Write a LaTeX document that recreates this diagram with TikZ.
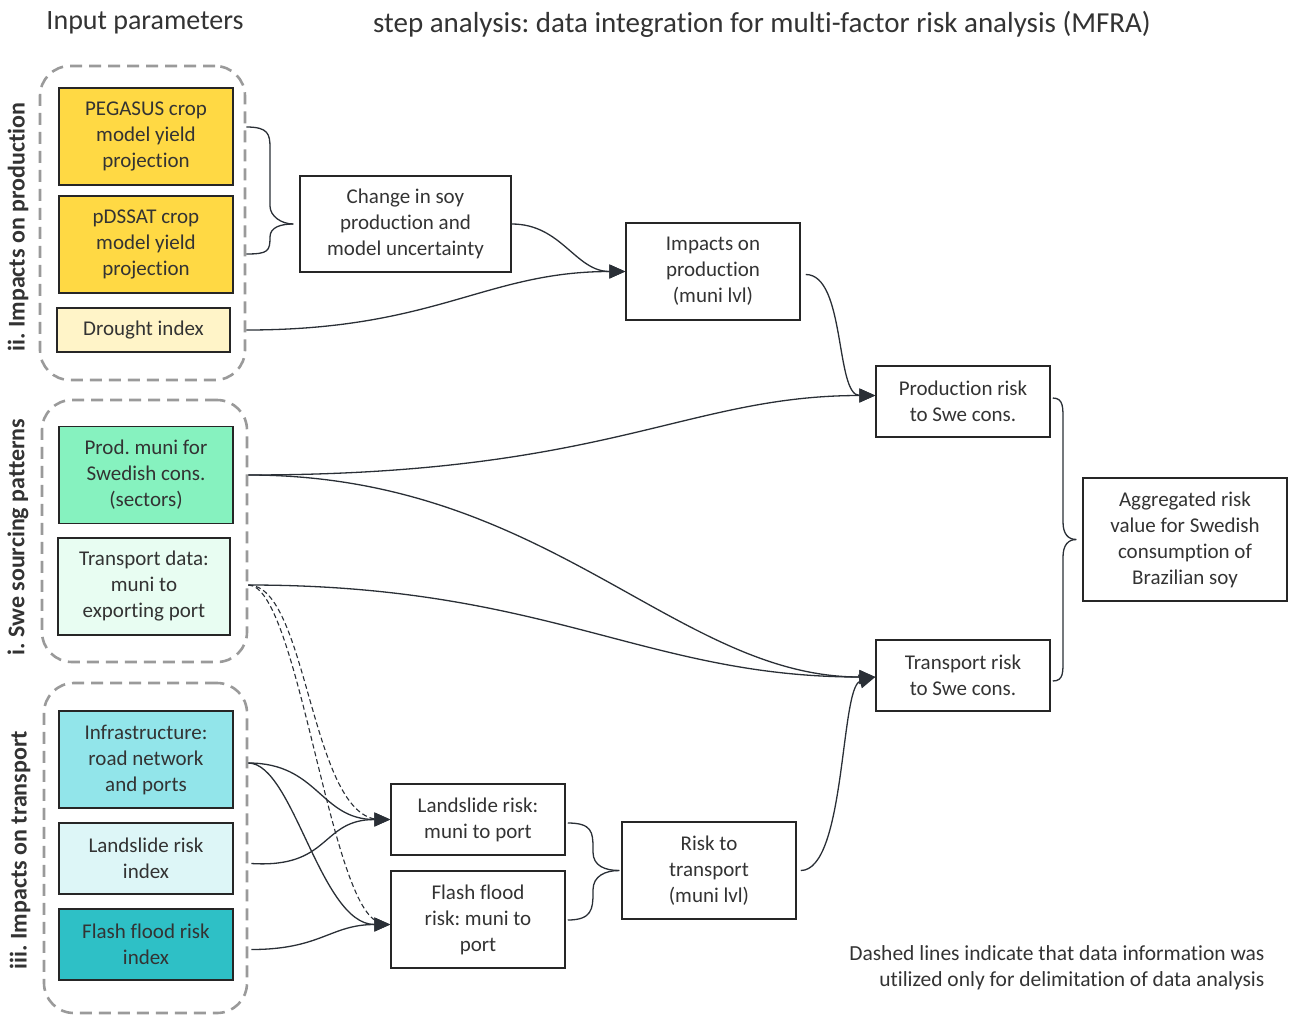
\documentclass[tikz,border=0pt]{standalone}
\usepackage{fontspec}
\setmainfont{Carlito}[Ligatures={NoCommon}]
\usetikzlibrary{arrows.meta}
\definecolor{txt}{HTML}{333333}
\definecolor{boxline}{HTML}{262626}
\definecolor{linec}{HTML}{2A2F36}
\definecolor{grpc}{HTML}{9A9A9A}
\definecolor{yel}{HTML}{FFD944}
\definecolor{yellt}{HTML}{FFF4C8}
\definecolor{mint}{HTML}{86F2BF}
\definecolor{mintlt}{HTML}{E8FDF2}
\definecolor{cyanm}{HTML}{92E5EA}
\definecolor{cyanlt}{HTML}{DDF6F7}
\definecolor{teal}{HTML}{2EC0C6}
\tikzset{
  box/.style={draw=boxline, line width=1.5pt, text=txt, align=center, inner sep=0pt,
    font=\fontsize{21}{26}\selectfont},
  grp/.style={draw=grpc, line width=2.6pt, dash pattern=on 12pt off 7pt, rounded corners=30pt, inner sep=0pt},
  conn/.style={draw=linec, line width=1.3pt},
  arr/.style={conn, -{Triangle[length=16pt,width=14pt]}},
  dsh/.style={draw=linec, line width=1.1pt, dash pattern=on 5pt off 3pt},
  vlab/.style={rotate=90, font=\bfseries\fontsize{24}{28}\selectfont, text=txt},
  ttl/.style={text=txt}
}
\begin{document}
\frenchspacing
\begin{tikzpicture}[x=1pt,y=-1pt]
\useasboundingbox (0,0) rectangle (1290,1015);
% titles
\node[ttl, font=\fontsize{28}{32}\selectfont] (t1) at (145,23) {Input parameters};
\node[ttl, font=\fontsize{29}{33}\selectfont] (t2) at (762,24) {step analysis: data integration for multi-factor risk analysis (MFRA)};
% groups
\node[grp, minimum width=205, minimum height=314] (g1) at (142.5,223) {};
\node[grp, minimum width=205, minimum height=262] (g2) at (144.5,531) {};
\node[grp, minimum width=203, minimum height=330] (g3) at (145.5,848) {};
\node[vlab] (l1) at (18,227) {ii. Impacts on production};
\node[vlab] (l2) at (18,537) {i. Swe sourcing patterns};
\node[vlab] (l3) at (20,850) {iii. Impacts on transport};
% input boxes
\node[box, fill=yel, minimum width=174, minimum height=97] (peg) at (146,136.5) {PEGASUS crop\\model yield\\projection};
\node[box, fill=yel, minimum width=174, minimum height=97] (pds) at (146,244.5) {pDSSAT crop\\model yield\\projection};
\node[box, fill=yellt, minimum width=173, minimum height=44] (dro) at (143.5,330) {Drought index};
\node[box, fill=mint, minimum width=174, minimum height=97] (pmu) at (146,475) {Prod. muni for\\Swedish cons.\\(sectors)};
\node[box, fill=mintlt, minimum width=172, minimum height=97] (tdt) at (144,586.5) {Transport data:\\muni to\\exporting port};
\node[box, fill=cyanm, minimum width=174, minimum height=97] (inf) at (146,759.5) {Infrastructure:\\road network\\and ports};
\node[box, fill=cyanlt, minimum width=174, minimum height=71] (lsi) at (146,858.5) {Landslide risk\\index};
\node[box, fill=teal, minimum width=174, minimum height=71] (ffi) at (146,944.5) {Flash flood risk\\index};
% analysis boxes
\node[box, minimum width=211, minimum height=96] (chg) at (405.5,224) {Change in soy\\production and\\model uncertainty};
\node[box, minimum width=174, minimum height=97] (imp) at (713,271.5) {Impacts on\\production\\(muni lvl)};
\node[box, minimum width=174, minimum height=71] (prr) at (963,401.5) {Production risk\\to Swe cons.};
\node[box, minimum width=204, minimum height=123] (agg) at (1185,539.5) {Aggregated risk\\value for Swedish\\consumption of\\Brazilian soy};
\node[box, minimum width=174, minimum height=71] (trr) at (963,675.5) {Transport risk\\to Swe cons.};
\node[box, minimum width=174, minimum height=71] (lsm) at (478,819.5) {Landslide risk:\\muni to port};
\node[box, minimum width=174, minimum height=97] (ffm) at (478,919.5) {Flash flood\\risk: muni to\\port};
\node[box, minimum width=174, minimum height=97] (rtt) at (709,870.5) {Risk to\\transport\\(muni lvl)};
% note
\node[text=txt, align=right, anchor=east, font=\fontsize{21.5}{26}\selectfont] (note) at (1268,968) {Dashed lines indicate that data information was\\utilized only for delimitation of data analysis};
% braces
\draw[conn] ([yshift=9.5pt]g1.east |- peg.east) .. controls +(22,0) and +(0,-14) .. (270,148) -- (270,206)
  .. controls +(0,10) and +(-12,0) .. ([xshift=-6pt]chg.west);
\draw[conn] ([yshift=-9.5pt]g1.east |- pds.east) .. controls +(22,0) and +(0,14) .. (270,237)
  .. controls +(0,-10) and +(-12,0) .. ([xshift=-6pt]chg.west);
\draw[conn] ([xshift=2pt,yshift=3.5pt]prr.east) .. controls +(11,0) and +(0,-14) .. (1063,422) -- (1063,522)
  .. controls +(0,12) and +(-8,0) .. ([xshift=-6pt]agg.west);
\draw[conn] ([xshift=2pt,yshift=-5.5pt]trr.east) .. controls +(11,0) and +(0,14) .. (1063,658) -- (1063,557)
  .. controls +(0,-12) and +(-8,0) .. ([xshift=-6pt]agg.west);
\draw[conn] ([xshift=2pt,yshift=-3.5pt]lsm.east) .. controls +(24,0) and +(0,-16) .. (593,848) -- (593,852)
  .. controls +(0,14) and +(-14,0) .. ([xshift=-2pt]rtt.west);
\draw[conn] ([xshift=2pt,yshift=-0.5pt]ffm.east) .. controls +(24,0) and +(0,16) .. (593,893) -- (593,890)
  .. controls +(0,-14) and +(-14,0) .. ([xshift=-2pt]rtt.west);
% arrows
\draw[arr] (chg.east) .. controls +(50,0) and +(-50,0) .. (imp.west);
\draw[arr] (g1.east |- dro.east) .. controls +(190,0) and +(-140,0) .. (imp.west);
\draw[arr] ([xshift=5pt,yshift=-3pt]imp.east) .. controls +(40,0) and +(-40,0) .. ([yshift=6pt]prr.west);
\draw[arr] (g2.east |- pmu.east) .. controls +(360,0) and +(-190,0) .. ([yshift=6pt]prr.west);
\draw[arr] (g2.east |- pmu.east) .. controls +(300,0) and +(-200,0) .. ([yshift=-1.5pt]trr.west);
\draw[arr] ([yshift=1.5pt]g2.east |- tdt.east) .. controls +(300,0) and +(-230,0) .. ([yshift=-1.5pt]trr.west);
\draw[arr] ([xshift=4pt]rtt.east) .. controls +(45,0) and +(-35,10) .. ([yshift=-1.5pt]trr.west);
\draw[arr] ([yshift=-3.5pt]g3.east |- inf.east) .. controls +(70,0) and +(-70,0) .. (lsm.west);
\draw[arr] ([yshift=-3.5pt]g3.east |- inf.east) .. controls +(45,0) and +(-70,0) .. ([yshift=-5pt]ffm.west);
\draw[arr] ([xshift=3pt,yshift=-5pt]g3.east |- lsi.east) .. controls +(80,5) and +(-70,0) .. (lsm.west);
\draw[arr] ([xshift=3pt,yshift=-5pt]g3.east |- ffi.east) .. controls +(70,0) and +(-60,0) .. ([yshift=-5pt]ffm.west);
% dashed
\draw[dsh] ([yshift=1.5pt]g2.east |- tdt.east) .. controls +(60,0) and +(-70,0) .. ([xshift=-10pt]lsm.west);
\draw[dsh] ([yshift=1.5pt]g2.east |- tdt.east) .. controls +(50,0) and +(-50,-10) .. ([xshift=-10pt,yshift=-3pt]ffm.west);
\end{tikzpicture}
\end{document}
